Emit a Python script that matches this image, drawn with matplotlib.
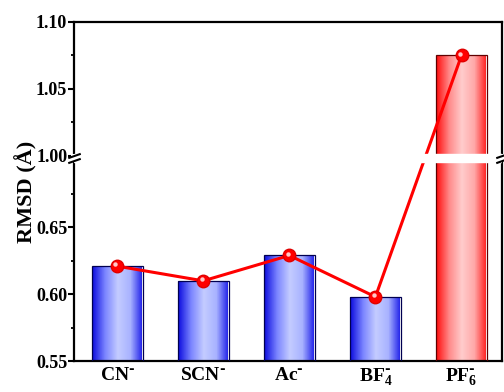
import numpy as np
import matplotlib
matplotlib.use('Agg')
import matplotlib.pyplot as plt
from matplotlib.colors import LinearSegmentedColormap
from matplotlib.path import Path
from matplotlib.patches import Rectangle
from matplotlib.ticker import FormatStrFormatter
from matplotlib.transforms import blended_transform_factory, ScaledTranslation

plt.rcParams['font.family'] = ['Liberation Serif', 'DejaVu Serif']
plt.rcParams['font.weight'] = 'bold'
plt.rcParams['mathtext.default'] = 'regular'

# data
anions = [r'CN$^{\text{-}}$', r'SCN$^{\text{-}}$', r'Ac$^{\text{-}}$',
          r'BF$_4^{\text{-}}$', r'PF$_6^{\text{-}}$']
rmsd = [0.621, 0.610, 0.629, 0.598, 1.075]
bar_kind = ['blue', 'blue', 'blue', 'blue', 'red']

y_major = [0.55, 0.60, 0.65, 1.00, 1.05, 1.10]
y_minor = [0.575, 0.625, 0.675, 1.025, 1.075]

# broken y axis: 0.55-0.70 and 1.00-1.10, with a small gap in between
LOW_TOP, HIGH_BOT, GAP = 0.70, 1.00, 0.0037
SPAN = HIGH_BOT - LOW_TOP


def fwd(y):
    y = np.asarray(y, float)
    return np.where(y <= LOW_TOP, y,
                    np.where(y >= HIGH_BOT, y - SPAN + GAP,
                             LOW_TOP + (y - LOW_TOP) * GAP / SPAN))


def inv(t):
    t = np.asarray(t, float)
    return np.where(t <= LOW_TOP, t,
                    np.where(t >= LOW_TOP + GAP, t + SPAN - GAP,
                             LOW_TOP + (t - LOW_TOP) * SPAN / GAP))


cmaps = {
    'blue': LinearSegmentedColormap.from_list(
        'bl', ['#1010e0', '#7c86ff', '#c4ccff', '#a8b2ff', '#1818e8']),
    'red': LinearSegmentedColormap.from_list(
        'rd', ['#ff1010', '#ff8a8a', '#ffcccc', '#ffa8a8', '#ff1818']),
}
edges = {'blue': '#000050', 'red': '#600000'}

fig = plt.figure(figsize=(5.04, 3.92), dpi=100)
ax = fig.add_axes([0.147, 0.079, 0.849, 0.865])
ax.set_yscale('function', functions=(fwd, inv))

x = np.arange(len(rmsd))
width = 0.59
grad = np.linspace(0, 1, 128).reshape(1, -1)
for xi, val, kind in zip(x, rmsd, bar_kind):
    b = ax.bar(xi, val - 0.55, bottom=0.55, width=width, facecolor='none',
               edgecolor=edges[kind], linewidth=0.9, zorder=3)[0]
    im = ax.imshow(grad, cmap=cmaps[kind], aspect='auto', zorder=2,
                   extent=(xi - width / 2, xi + width / 2, 0.55, val))
    im.set_clip_path(b)

ax.plot(x, rmsd, color='#ff0000', lw=2.2, marker='o', ms=9,
        mfc='#ff0000', mec='#e00000', zorder=4)
# small highlight on each marker
shift = ScaledTranslation(-1.2 / 72, 1.2 / 72, fig.dpi_scale_trans)
ax.plot(x, rmsd, 'o', ms=3.2, color='#ffc8c8', mec='none',
        transform=ax.transData + shift, zorder=5)

# white band through the plot at the break
ax.axhspan(0.699, 1.001, color='white', zorder=6)

ax.set_xlim(-0.5, 4.47)
ax.set_ylim(0.55, 1.10)
ax.set_yticks(y_major)
ax.set_yticks(y_minor, minor=True)
ax.yaxis.set_major_formatter(FormatStrFormatter('%.2f'))
ax.set_xticks(x)
ax.set_xticklabels(anions, fontsize=14, fontweight='bold')

for s in ax.spines.values():
    s.set_linewidth(1.6)
ax.tick_params(axis='y', which='major', direction='out', length=4, width=1.5,
               labelsize=13, pad=1)
ax.tick_params(axis='y', which='minor', direction='out', length=2.5, width=1.3)
ax.tick_params(axis='x', length=0, pad=4)
for lab in ax.get_yticklabels():
    lab.set_fontweight('bold')

ax.set_ylabel('RMSD (Å)', fontsize=16, fontweight='bold')
ax.yaxis.set_label_coords(-0.085, 0.5)

# break marks on both side spines
bt = blended_transform_factory(ax.transAxes, ax.transData)
for xs in (0, 1):
    ax.add_patch(Rectangle((xs - 0.008, 0.699), 0.016, 0.302, transform=bt,
                           facecolor='white', edgecolor='none',
                           clip_on=False, zorder=7))
slash = Path([(-1, -0.75), (1, -0.05), (-1, 0.05), (1, 0.75)],
             [Path.MOVETO, Path.LINETO, Path.MOVETO, Path.LINETO])
ax.plot([0, 1], [0.85, 0.85], transform=bt, ls='none', marker=slash, ms=9,
        mfc='none', mec='black', mew=1.5, clip_on=False, zorder=8)

fig.savefig('out.png', dpi=100)
